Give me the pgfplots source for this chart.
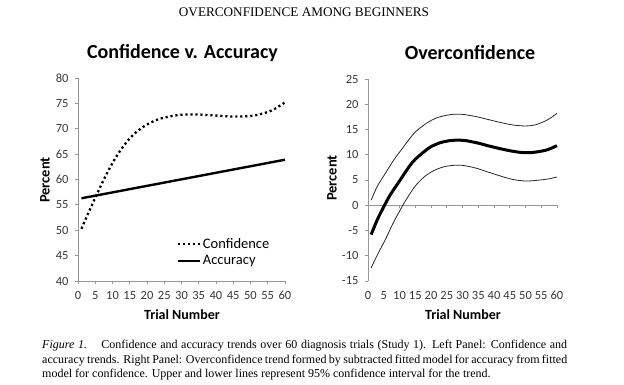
\documentclass[border=0pt]{standalone}
\usepackage{pgfplots}
\usepackage{pgfplotstable}
\pgfplotsset{compat=1.18}
\usepackage{fontspec}
\setmainfont{Liberation Serif}
\newfontfamily\calibri{Carlito}
\definecolor{axgray}{RGB}{150,150,150}
\definecolor{lblgray}{RGB}{55,55,55}

\pgfplotstableread{
x y
1 50.3
3 53.4
5 56.4
7 59.3
9 62.0
11 64.4
13 66.4
15 68.1
17 69.4
19 70.4
21 71.2
23 71.8
25 72.2
28 72.6
31 72.8
35 72.8
40 72.6
45 72.4
50 72.5
53 72.9
55 73.3
57 73.9
60 75.2
}\confidencetab

\pgfplotstableread{
x y
1 56.3
60 63.9
}\accuracytab

\pgfplotstableread{
x y
1 -5.8
3 -2.8
5 -0.3
7 2.0
10 4.8
13 7.6
15 9.1
18 10.7
20 11.6
23 12.4
26 12.8
28 12.9
31 12.8
35 12.3
38 11.8
42 11.2
45 10.8
48 10.5
51 10.4
54 10.6
57 11.0
60 11.8
}\overconftab

\pgfplotstableread{
x y
1 1.0
3 3.8
5.5 6.3
8 8.8
10 10.5
13 13.0
15 14.5
18 16.0
21 17.1
24 17.7
27 18.0
30 18.0
34 17.6
38 17.0
42 16.4
46 15.9
50 15.7
53 15.9
56 16.6
58 17.3
60 18.2
}\uppercitab

\pgfplotstableread{
x y
1 -12.4
3 -9.8
5.5 -6.8
8 -3.5
10 -1.2
12 1.0
15 3.8
18 5.7
21 6.9
24 7.6
27 7.9
30 7.9
34 7.4
38 6.6
42 5.8
46 5.1
50 4.8
53 4.9
56 5.1
58 5.3
60 5.6
}\lowercitab

\pgfplotsset{
  panel/.style={
    scale only axis,
    xmin=0, xmax=60,
    axis line style={-, axgray, line width=0.8pt},
    tick style={axgray, line width=0.8pt},
    major tick length=3pt,
    tick align=outside,
    xtick={0,5,...,60},
    xticklabels={0,5,10,15,20,25,30,35,40,45,50,55,60},
    ticklabel style={font=\calibri\fontsize{12.5}{14}\selectfont, text=lblgray},
    xticklabel style={yshift=-4pt},
    yticklabel style={xshift=-3pt},
    clip=false,
  }
}

\begin{document}
\begin{tikzpicture}
\useasboundingbox (0,0) rectangle (624pt,384pt);

% header
\node[font=\fontsize{13.2}{15}\selectfont] at (304pt,371.5pt) {OVERCONFIDENCE AMONG BEGINNERS};

% titles
\node[font=\calibri\bfseries\fontsize{20}{24}\selectfont] at (182.5pt,331pt) {Confidence v. Accuracy};
\node[font=\calibri\bfseries\fontsize{20}{24}\selectfont] at (470pt,331pt) {Overconfidence};

% axis labels
\node[font=\calibri\bfseries\fontsize{14}{16}\selectfont] at (182pt,69pt) {Trial Number};
\node[font=\calibri\bfseries\fontsize{14}{16}\selectfont] at (463pt,69pt) {Trial Number};
\node[rotate=90,font=\calibri\bfseries\fontsize{14.5}{16}\selectfont] at (45pt,204pt) {Percent};
\node[rotate=90,font=\calibri\bfseries\fontsize{14.5}{16}\selectfont] at (332pt,206pt) {Percent};

% left panel
\begin{axis}[panel,
  at={(78pt,103pt)}, anchor=south west,
  width=207pt, height=203pt,
  ymin=40, ymax=80,
  axis x line*=bottom, axis y line*=left,
  ytick={40,45,...,80},
  yticklabels={40,45,50,55,60,65,70,75,80},
  legend style={at={(axis cs:28.5,48.9)}, anchor=north west, draw=none, fill=none,
    font=\calibri\fontsize{14.5}{17}\selectfont, row sep=2pt, inner sep=0pt,
    /tikz/every even column/.append style={column sep=0pt}},
  legend cell align=left,
  legend image code/.code={\draw[#1] (0pt,0pt) -- (22pt,0pt);},
]
\addplot[black, line width=2.3pt, dash pattern=on 2.2pt off 2.8pt, smooth] table {\confidencetab};
\addlegendentry{Confidence}
\addplot[black, line width=2.4pt] table {\accuracytab};
\addlegendentry{Accuracy}
\end{axis}

% right panel: tick labels along the bottom
\begin{axis}[panel,
  at={(368pt,103pt)}, anchor=south west,
  width=189pt, height=202pt,
  ymin=-15, ymax=25,
  axis x line*=bottom, axis y line=none,
  x axis line style={draw=none},
  major tick length=0pt,
  xticklabel style={yshift=-3pt},
]
\end{axis}

% right panel: data, zero line with ticks
\begin{axis}[panel,
  at={(368pt,103pt)}, anchor=south west,
  width=189pt, height=202pt,
  ymin=-15, ymax=25,
  axis x line*=middle, axis y line*=left,
  xticklabels={},
  x tick style={axgray, line width=0.8pt},
  ytick={-15,-10,...,25},
  yticklabels={-15,-10,-5,0,5,10,15,20,25},
]
\addplot[black!85, line width=0.8pt, smooth] table {\uppercitab};
\addplot[black!85, line width=0.8pt, smooth] table {\lowercitab};
\addplot[black, line width=3pt, smooth] table {\overconftab};
\end{axis}

% caption
\node[anchor=north west, text width=525pt, align=justify, inner sep=0pt,
  font=\fontsize{12}{14.5}\selectfont] at (42pt,44pt)
  {\textit{Figure 1.}\hspace{0.7em} Confidence and accuracy trends over 60 diagnosis trials (Study 1). Left Panel: Confidence and\linebreak accuracy trends. Right Panel: Overconfidence trend formed by subtracted fitted model for accuracy from fitted\linebreak model for confidence. Upper and lower lines represent 95\% confidence interval for the trend.};
\end{tikzpicture}
\end{document}
